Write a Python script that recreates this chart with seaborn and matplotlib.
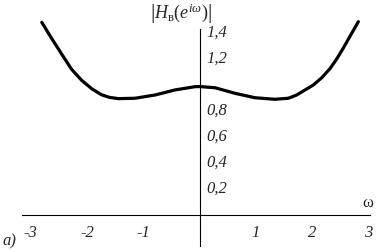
import numpy as np
import pandas as pd
import seaborn as sns
import matplotlib.pyplot as plt

# Values
omega = [-2.80, -2.62, -2.45, -2.27, -2.09, -1.91, -1.74, -1.60, -1.44, -1.145,
         -0.79, -0.435, -0.08, 0.0, 0.275, 0.63, 0.985, 1.34, 1.576, 1.725,
         2.02, 2.17, 2.32, 2.435, 2.55, 2.685, 2.82]
magnitude = [1.482, 1.355, 1.24, 1.12, 1.035, 0.97, 0.925, 0.905, 0.895, 0.898,
             0.923, 0.962, 0.987, 0.988, 0.979, 0.936, 0.902, 0.89, 0.898, 0.923,
             1.0, 1.056, 1.128, 1.2, 1.282, 1.385, 1.487]
x_ticks = [-3, -2, -1, 1, 2, 3]
x_tick_labels = ["-3", "-2", "-1", "1", "2", "3"]
y_ticks = [0.2, 0.4, 0.6, 0.8, 1.2, 1.4]
y_tick_labels = ["0,2", "0,4", "0,6", "0,8", "1,2", "1,4"]

df = pd.DataFrame({"omega": omega, "mag": magnitude})

sns.set_theme(style="white")
plt.rcParams["font.family"] = ["Liberation Serif", "DejaVu Serif"]
plt.rcParams["mathtext.fontset"] = "custom"
plt.rcParams["mathtext.rm"] = "Liberation Serif"
plt.rcParams["mathtext.it"] = "Liberation Serif:italic"
plt.rcParams["axes.unicode_minus"] = False

fig = plt.figure(figsize=(3.77, 2.52), dpi=100)
ax = fig.add_axes([0, 0, 1, 1])
ax.set_facecolor("white")

sns.lineplot(data=df, x="omega", y="mag", color="black", linewidth=2.3, ax=ax)

ax.set_xlim(-3.542, 3.151)
ax.set_ylim(-0.285, 1.654)

# axes through the origin
for s in ["top", "right"]:
    ax.spines[s].set_visible(False)
ax.spines["left"].set_position(("data", 0))
ax.spines["bottom"].set_position(("data", 0))
ax.spines["left"].set_bounds(-0.24, 1.43)
ax.spines["bottom"].set_bounds(-3.15, 3.02)
for s in ["left", "bottom"]:
    ax.spines[s].set_color("black")
    ax.spines[s].set_linewidth(0.8)

ax.set_xticks(x_ticks)
ax.set_xticklabels(x_tick_labels, fontsize=12, style="italic")
ax.set_yticks(y_ticks)
ax.set_yticklabels([])
ax.tick_params(axis="x", direction="in", length=2, width=0.8, pad=7, color="black")
ax.tick_params(axis="y", direction="in", length=3, width=0.8, color="black")
ax.set_xlabel("")
ax.set_ylabel("")

for v, lab in zip(y_ticks, y_tick_labels):
    ax.text(0.13, v, lab, fontsize=12, style="italic", ha="left", va="center")

ax.text(-0.33, 1.545, r"$\left|H_{\mathrm{в}}(e^{i\omega})\right|$", fontsize=13,
        ha="center", va="center")
ax.text(2.99, 0.092, "ω", fontsize=12, ha="center", va="center")
fig.text(9 / 377, 1 - 241 / 252, "a)", fontsize=12, style="italic", ha="center", va="center")

fig.savefig("out.png", dpi=100)
